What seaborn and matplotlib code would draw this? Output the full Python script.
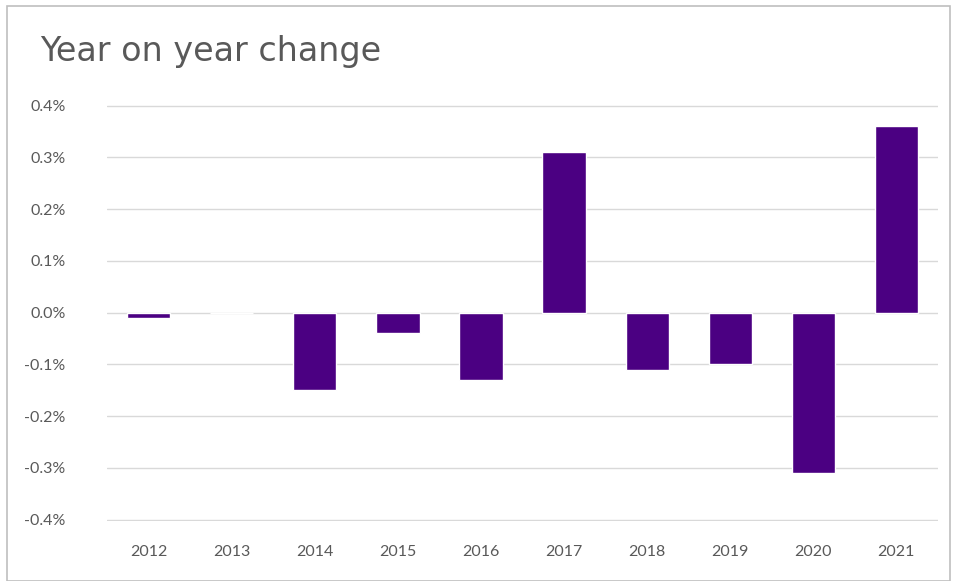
import matplotlib
matplotlib.use("Agg")
import matplotlib.pyplot as plt
import seaborn as sns
import pandas as pd
from matplotlib.ticker import FuncFormatter
from matplotlib.patches import Rectangle

years = ["2012", "2013", "2014", "2015", "2016", "2017", "2018", "2019", "2020", "2021"]
changes = [-0.01, 0.0, -0.15, -0.04, -0.13, 0.31, -0.11, -0.10, -0.31, 0.36]
yticks = [-0.4, -0.3, -0.2, -0.1, 0.0, 0.1, 0.2, 0.3, 0.4]
title = "Year on year change"

sns.set_theme(style="white")
plt.rcParams['font.family'] = ['Lato', 'DejaVu Sans']

df = pd.DataFrame({"year": years, "change": changes})

fig = plt.figure(figsize=(9.57, 5.81), dpi=100)
ax = fig.add_axes([0.112, 0.103, 0.868, 0.718])
sns.barplot(data=df, x="year", y="change", color="#4B0082", saturation=1,
            width=0.52, ax=ax, zorder=3)

ax.set_ylim(-0.403, 0.403)
ax.set_yticks(yticks)
ax.yaxis.set_major_formatter(FuncFormatter(lambda v, p: f"{v:.1f}%"))
ax.grid(axis="y", color="#d9d9d9", linewidth=1, zorder=0)
ax.set_axisbelow(True)
for s in ax.spines.values():
    s.set_visible(False)
ax.set_xlabel("")
ax.set_ylabel("")
ax.tick_params(axis="both", length=0, labelsize=11.5, labelcolor="#595959")
ax.tick_params(axis="y", pad=30)
ax.tick_params(axis="x", pad=17)
ax.set_xlim(-0.5, 9.5)

fig.text(0.042, 0.912, title, fontsize=24, color="#595959", va="center", ha="left",
         family=["DejaVu Sans"])
fig.patches.append(Rectangle((0.007, 0.0), 0.986, 0.99, transform=fig.transFigure,
                             fill=False, edgecolor="#bfbfbf", linewidth=1.2))

fig.savefig("out.png", dpi=100)
